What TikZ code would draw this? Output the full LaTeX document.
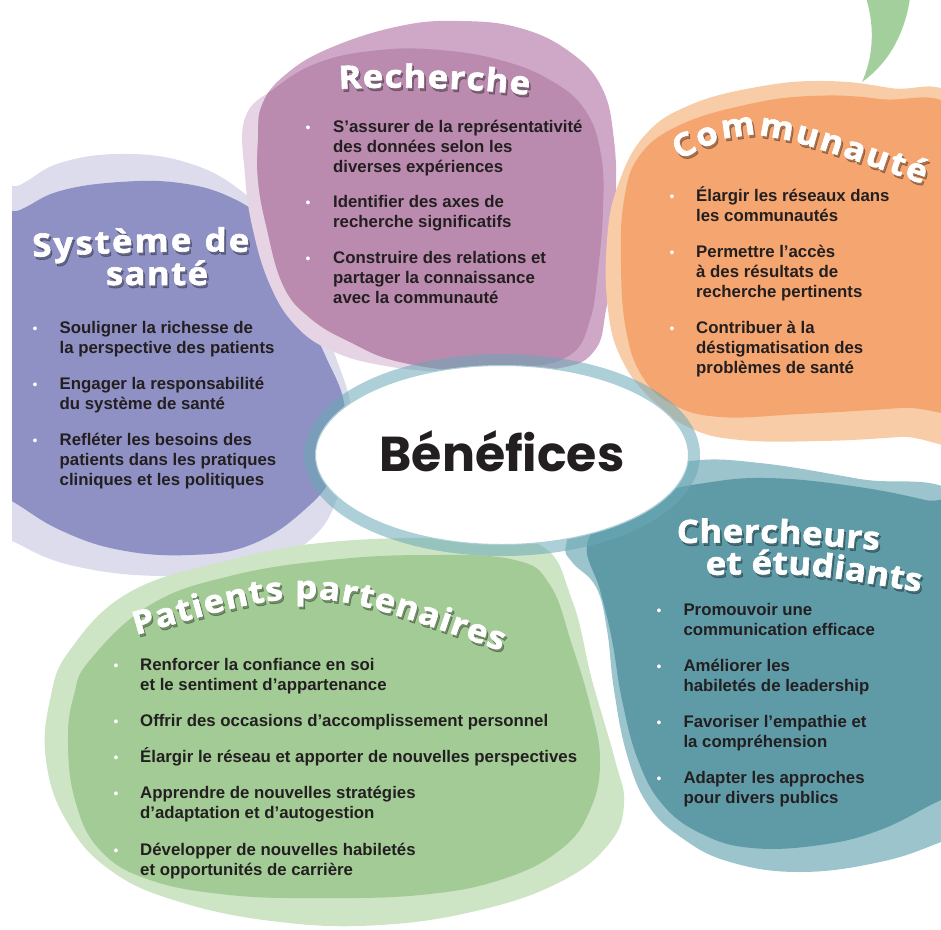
\documentclass[tikz,border=0pt]{standalone}
\usepackage{fontspec}
\setmainfont{Liberation Sans}
\newfontfamily\ttlfont{Open Sans}[FakeStretch=1.08,FakeBold=2]
\newfontfamily\benfont{Poppins}
\usetikzlibrary{decorations.text,shapes.geometric}
\definecolor{purL}{HTML}{DCDCEC}
\definecolor{purD}{HTML}{8F90C4}
\definecolor{mauL}{HTML}{E6D4E4}
\definecolor{mauM}{HTML}{CFA8C8}
\definecolor{mauD}{HTML}{BA8BAF}
\definecolor{orL}{HTML}{F9CCA8}
\definecolor{orD}{HTML}{F5A56F}
\definecolor{teL}{HTML}{9CC4CC}
\definecolor{teD}{HTML}{5F9BA7}
\definecolor{grL}{HTML}{CDE4C5}
\definecolor{grD}{HTML}{A3CB96}
\definecolor{leafc}{HTML}{A2CF9B}
\definecolor{ringc}{HTML}{6AA8B6}
\definecolor{txtc}{HTML}{231F20}
\newcommand\tsz{\fontsize{32}{32}\selectfont\ttlfont\bfseries}
\newcommand\ttl[2]{%
  \begin{scope}[opacity=.3, shift={(1.8,2.8)}]
    \path[decorate, decoration={text along path, text={|\tsz|#2}, text align=fit to path, text color=black}] #1;
  \end{scope}
  \path[decorate, decoration={text along path, text={|\tsz|#2}, text align=fit to path, text color=white}] #1;
}
\tikzset{
  bt/.style={font=\fontsize{16.8}{20}\selectfont\bfseries, text=txtc, anchor=base west, inner sep=0pt},
  bul/.style={font=\fontsize{14}{14}\selectfont, text=white, anchor=base, inner sep=0pt},
  blob/.style={smooth cycle, tension=.7}
}
\begin{document}
\begin{tikzpicture}[x=1pt,y=-1pt]
\useasboundingbox (0,0) rectangle (941,929);
\clip (0,0) rectangle (941,929);
% ---------- purple
\begin{scope}
\clip (12,0) rectangle (941,929);
\fill[purL] plot[blob] coordinates {(-30,210) (20,185) (60,163) (120,154) (185,162) (240,190) (285,238) (308,295) (335,355) (352,420) (340,490) (310,540) (250,568) (160,576) (70,565) (10,540) (-30,520)};
\fill[purD] plot[blob] coordinates {(-30,232) (20,210) (60,191) (120,182) (180,183) (230,197) (265,222) (285,260) (302,310) (325,355) (345,410) (335,470) (302,512) (250,545) (190,555) (120,550) (60,530) (10,500) (-30,480)};
\end{scope}
% ---------- mauve
\fill[mauL] plot[blob] coordinates {(245,118) (275,88) (320,62) (380,50) (440,50) (500,60) (550,80) (585,110) (601,155) (603,210) (598,270) (590,320) (570,355) (520,368) (450,372) (380,365) (330,350) (295,325) (270,285) (253,230) (245,175)};
\fill[mauM] plot[blob] coordinates {(258,140) (262,105) (285,75) (330,48) (400,26) (460,21) (520,28) (570,52) (602,88) (614,140) (616,200) (613,260) (606,310) (595,350) (560,368) (480,372) (400,362) (350,342) (310,318) (283,285) (266,225) (258,180)};
\begin{scope}
\clip plot[blob] coordinates {(245,118) (275,88) (320,62) (380,50) (440,50) (500,60) (550,80) (585,110) (601,155) (603,210) (598,270) (590,320) (570,355) (520,368) (450,372) (380,365) (330,350) (295,325) (270,285) (253,230) (245,175)};
\fill[mauD] plot[blob] coordinates {(258,140) (262,105) (285,75) (330,48) (400,26) (460,21) (520,28) (570,52) (602,88) (614,140) (616,200) (613,260) (606,310) (595,350) (560,368) (480,372) (400,362) (350,342) (310,318) (283,285) (266,225) (258,180)};
\end{scope}
% ---------- orange
\fill[orL] plot[blob] coordinates {(607,240) (618,185) (645,135) (690,105) (757,87) (823,81) (890,88) (960,105) (990,250) (985,430) (900,437) (820,441) (740,440) (690,428) (652,400) (622,360) (608,310)};
\fill[orD] plot[blob] coordinates {(624,200) (640,155) (680,125) (745,105) (810,96) (880,99) (960,115) (990,250) (985,400) (900,408) (800,414) (720,417) (672,404) (642,376) (626,330) (621,265)};
% ---------- teal
\fill[teL] plot[blob] coordinates {(566,545) (582,508) (625,478) (690,461) (760,463) (860,479) (960,497) (990,600) (990,820) (941,842) (880,862) (800,872) (730,862) (682,838) (648,805) (627,755) (614,690) (607,630) (596,587) (572,562)};
\fill[teD] plot[blob] coordinates {(587,545) (612,514) (655,494) (705,483) (765,478) (845,485) (925,500) (990,520) (990,780) (941,800) (880,830) (820,845) (752,848) (702,834) (663,805) (638,760) (622,700) (612,640) (600,590)};
% ---------- green
\fill[grL] plot[blob] coordinates {(70,650) (130,592) (230,560) (330,542) (460,538) (540,545) (572,600) (592,680) (615,760) (624,805) (608,845) (560,882) (480,910) (380,925) (280,922) (180,902) (110,870) (66,820) (46,760) (50,700)};
\fill[grD] plot[blob] coordinates {(90,660) (150,605) (230,576) (330,560) (430,555) (515,560) (550,585) (572,645) (590,705) (600,760) (590,810) (560,850) (500,880) (420,895) (320,898) (230,895) (150,880) (100,850) (75,800) (68,740) (74,695)};
% ---------- leaf
\fill[leafc] (866,-2) .. controls (876,30) and (872,60) .. (862,82) .. controls (890,62) and (905,32) .. (910,-2) -- cycle;
% ---------- centre
\node[ellipse, fill=white, minimum width=374pt, minimum height=180pt, inner sep=0pt] (ctr) at (502,455) {};
\draw[ringc, draw opacity=.55, line width=12pt] (502,455) ellipse [x radius=192pt, y radius=95pt];
\node[font=\benfont\fontsize{49}{49}\selectfont\bfseries, text=txtc, anchor=base, inner sep=0pt] (bentxt) at (502,471.5) {Bénéfices};
% ---------- titles
\ttl{(33,257) .. controls (100,253) and (180,250) .. (249,252)}{Système de}
\ttl{(106,285) -- (208,285)}{santé}
\ttl{(339,89) .. controls (400,86) and (470,88) .. (529,95)}{Recherche}
\ttl{(679,160) .. controls (750,124) .. (923,184)}{Communauté}
\ttl{(677,543) .. controls (780,542) .. (879,550)}{Chercheurs}
\ttl{(706,575) .. controls (810,573) .. (920,592)}{et étudiants}
\ttl{(136,635) .. controls (312,584) .. (501,651)}{Patients partenaires}
% ---------- texts
\foreach \t/\yy [count=\k] in {Souligner la richesse de/333.3, la perspective des patients/353.3, Engager la responsabilité/389.5, du système de santé/409.5, Refléter les besoins des/445.5, patients dans les pratiques/465.5, cliniques et les politiques/485.5}
  \node[bt] (sys\k) at (59.5,\yy) {\t};
\foreach \yy [count=\k] in {333.3,389.5,445.5} \node[bul] (sysb\k) at (35,\yy) {•};
\foreach \t/\yy [count=\k] in {S’assurer de la représentativité/132.5, des données selon les/152.5, diverses expériences/172.5, Identifier des axes de/207.5, recherche significatifs/227.5, Construire des relations et/263.3, partager la connaissance/283.3, avec la communauté/303.3}
  \node[bt] (rec\k) at (333,\yy) {\t};
\foreach \yy [count=\k] in {132.5,207.5,263.3} \node[bul] (recb\k) at (308,\yy) {•};
\foreach \t/\yy [count=\k] in {Élargir les réseaux dans/201.7, les communautés/221.7, Permettre l’accès/257.7, à des résultats de/277.7, recherche pertinents/297.7, Contribuer à la/333.5, déstigmatisation des/353.5, problèmes de santé/373.5}
  \node[bt] (com\k) at (696,\yy) {\t};
\foreach \yy [count=\k] in {201.7,257.7,333.5} \node[bul] (comb\k) at (672,\yy) {•};
\foreach \t/\yy [count=\k] in {Promouvoir une/615, communication efficace/635, Améliorer les/671, habiletés de leadership/691, Favoriser l’empathie et/727, la compréhension/747, Adapter les approches/783, pour divers publics/803}
  \node[bt] (che\k) at (683.3,\yy) {\t};
\foreach \yy [count=\k] in {615,671,727,783} \node[bul] (cheb\k) at (659,\yy) {•};
\foreach \t/\yy [count=\k] in {Renforcer la confiance en soi/670.5, et le sentiment d’appartenance/690.5, Offrir des occasions d’accomplissement personnel/726.5, Élargir le réseau et apporter de nouvelles perspectives/762.5, Apprendre de nouvelles stratégies/798.5, d’adaptation et d’autogestion/818.5, Développer de nouvelles habiletés/855, et opportunités de carrière/875}
  \node[bt] (pat\k) at (140,\yy) {\t};
\foreach \yy [count=\k] in {670.5,726.5,762.5,798.5,855} \node[bul] (patb\k) at (116,\yy) {•};
\end{tikzpicture}
\end{document}
